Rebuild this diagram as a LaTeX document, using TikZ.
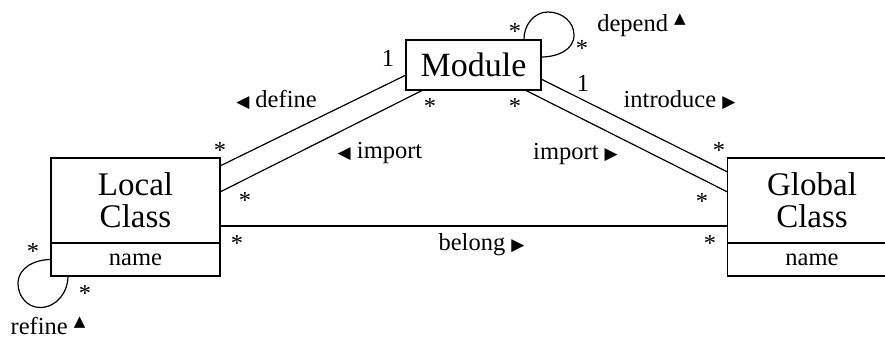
\documentclass[tikz,border=0pt]{standalone}
\usepackage{fontspec}
\setmainfont{Liberation Serif}
\newfontfamily\symfont{DejaVu Sans}
\usetikzlibrary{positioning}

\newcommand\tril{{\symfont\fontsize{17}{17}\selectfont ◀}}
\newcommand\trir{{\symfont\fontsize{17}{17}\selectfont ▶}}
\newcommand\triu{\raisebox{8pt}{\symfont\fontsize{15}{15}\selectfont ▲}}

\begin{document}
\begin{tikzpicture}[x=1pt,y=1pt,line width=1.2pt,
    every node/.style={inner sep=0pt,outer sep=0pt},
    class/.style={draw,minimum width=169pt,minimum height=85pt,align=center,
      font=\fontsize{33}{32}\selectfont},
    attr/.style={draw,minimum width=169pt,minimum height=33pt,
      font=\fontsize{24.5}{26}\selectfont},
    modbox/.style={draw,minimum width=135pt,minimum height=50pt,
      font=\fontsize{34}{34}\selectfont},
    role/.style={anchor=base,font=\fontsize{24.5}{26}\selectfont},
    mult/.style={font=\fontsize{24.5}{26}\selectfont}]
  \useasboundingbox (0,0) rectangle (885,338);

  \node[class] (local) at (135.5,137.5) {Local\\Class};
  \node[attr,below=0pt of local] (localname) {name};
  \node[class] (global) at (812,137.5) {Global\\Class};
  \node[attr,below=0pt of global] (globalname) {name};
  \node[modbox] (module) at (473.5,273) {Module};

  \draw ([yshift=-8pt]local.north east) -- ([yshift=-10pt]module.west);
  \draw ([yshift=8.5pt]local.east) -- ([xshift=17pt]module.south west);
  \draw ([xshift=-16pt]module.south east) -- ([yshift=8.5pt]global.west);
  \draw ([yshift=-14pt]module.east) -- ([yshift=-14pt]global.north west);
  \draw ([yshift=-25.5pt]local.east) -- ([yshift=-25.5pt]global.west);

  % self associations
  \draw ([xshift=-17pt]module.north east) to[out=92,in=180] ++(24,28)
    to[out=0,in=90] ++(26,-23) to[out=-90,in=0] ([yshift=-17pt]module.north east);
  \draw (localname.west) to[out=180,in=90] ++(-33,-24)
    to[out=-90,in=180] ++(22,-24) to[out=0,in=-90] ([xshift=17pt]localname.south west);

  \node[role] (define) at (276.5,231) {\tril{} define};
  \node[role] (importl) at (380,180) {\tril{} import};
  \node[role] (importg) at (575.5,179) {import \trir};
  \node[role] (introduce) at (679.5,230) {introduce \trir};
  \node[role] (belong) at (481.5,88) {belong \trir};
  \node[role] (depend) at (641.5,306) {depend \triu};
  \node[role] (refine) at (48,4) {refine \triu};

  \node[mult] (define-m) at (388,280) {1};
  \node[mult] (define-l) at (220,188) {*};
  \node[mult] (importl-m) at (430,232) {*};
  \node[mult] (importl-l) at (245,138) {*};
  \node[mult] (importg-m) at (515,232) {*};
  \node[mult] (importg-g) at (702,137) {*};
  \node[mult] (introduce-m) at (583,255) {1};
  \node[mult] (introduce-g) at (719,188) {*};
  \node[mult] (belong-l) at (237,95) {*};
  \node[mult] (belong-g) at (710,95) {*};
  \node[mult] (depend-a) at (515,307) {*};
  \node[mult] (depend-b) at (582,290) {*};
  \node[mult] (refine-a) at (33,87) {*};
  \node[mult] (refine-b) at (85,45) {*};
\end{tikzpicture}
\end{document}
